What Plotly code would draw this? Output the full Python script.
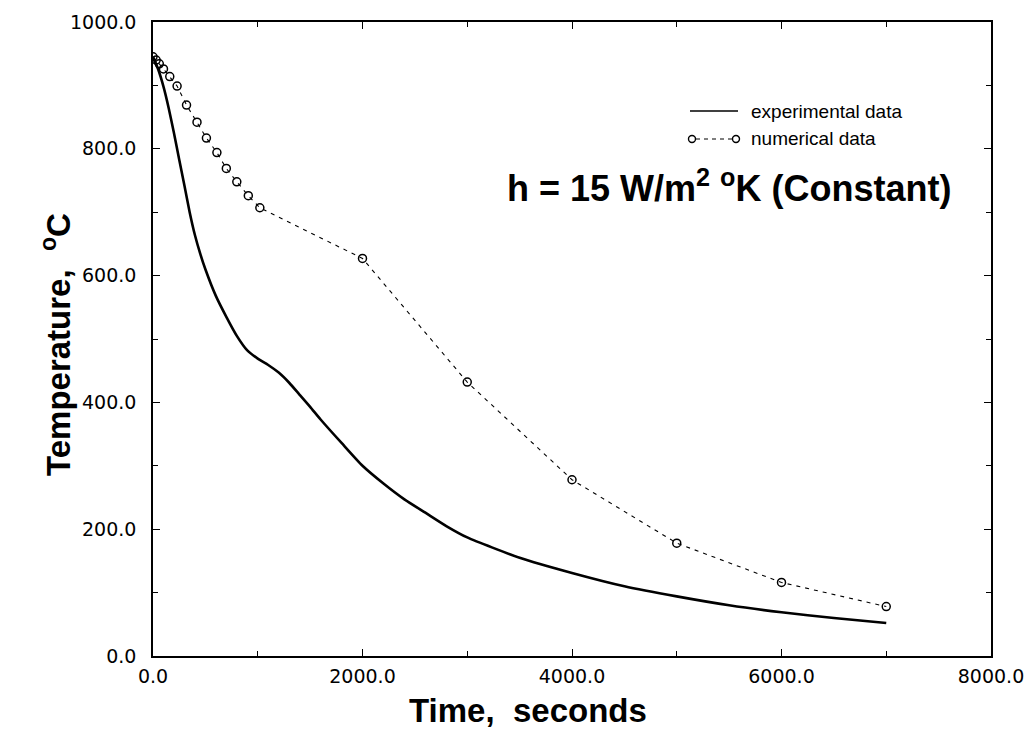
import plotly.graph_objects as go

# Experimental data (solid line)
exp_time = [0, 50, 100, 150, 200, 250, 300, 350, 400, 450, 500, 600, 700, 800, 900, 1000,
            1100, 1200, 1300, 1400, 1500, 1600, 1800, 2000, 2200, 2400, 2600, 2800, 3000,
            3500, 4000, 4500, 5000, 5500, 6000, 6500, 7000]
exp_temp = [945, 925, 898, 864, 825, 783, 742, 700, 664, 635, 610, 568, 535, 505, 482, 469,
            459, 447, 431, 412, 393, 373, 336, 300, 272, 247, 226, 205, 187,
            155, 131, 110, 94, 80, 69, 60, 52]

# Numerical data (dashed line with open circles)
num_time = [0, 30, 60, 100, 160, 230, 320, 420, 510, 610, 700, 800, 910, 1020,
            2000, 3000, 4000, 5000, 6000, 7000]
num_temp = [945, 940, 934, 926, 914, 899, 869, 842, 817, 794, 769, 748, 726, 707,
            627, 432, 278, 178, 116, 78]

x_ticks = [0, 2000, 4000, 6000, 8000]
x_tick_labels = ["0.0", "2000.0", "4000.0", "6000.0", "8000.0"]
y_ticks = [0, 200, 400, 600, 800, 1000]
y_tick_labels = ["0.0", "200.0", "400.0", "600.0", "800.0", "1000.0"]

FONT = "Arial, 'Liberation Sans', Helvetica, sans-serif"
TICKFONT = "'DejaVu Sans', Verdana, sans-serif"

OFF = 8  # page body margin
W, H = 1033 - 2 * OFF, 734 - OFF
# plot area edges in screen pixels
SL, SR, ST, SB = 153, 991, 22, 656
L, R, T, B = SL - OFF, SR - OFF, ST - OFF, SB - OFF


def px(xs):
    return (xs - SL) / (SR - SL)


def py(ys):
    return (SB - ys) / (SB - ST)


fig = go.Figure()
fig.add_trace(go.Scatter(
    x=exp_time, y=exp_temp, mode="lines", name="experimental data",
    line=dict(color="black", width=2.6, shape="spline", smoothing=0.6),
    showlegend=False))
fig.add_trace(go.Scatter(
    x=num_time, y=num_temp, mode="lines+markers", name="numerical data",
    line=dict(color="black", width=1.1, dash="4px,5px"),
    marker=dict(symbol="circle-open", size=8, color="black", line=dict(width=1.5)),
    showlegend=False))

shapes = []
# legend samples
shapes.append(dict(type="line", xref="paper", yref="paper", x0=px(690), x1=px(738),
                   y0=py(111), y1=py(111), line=dict(color="black", width=1.6)))
shapes.append(dict(type="line", xref="paper", yref="paper", x0=px(696), x1=px(732),
                   y0=py(139), y1=py(139), line=dict(color="black", width=1.1, dash="4px,4px")))
for cx in (692, 736):
    shapes.append(dict(type="circle", xref="paper", yref="paper",
                       x0=px(cx - 3.5), x1=px(cx + 3.5), y0=py(139 + 3.5), y1=py(139 - 3.5),
                       line=dict(color="black", width=1.4)))

annotations = [
    dict(x=px(749), y=py(111), xref="paper", yref="paper", text="experimental data",
         showarrow=False, xanchor="left", yanchor="middle",
         font=dict(family=FONT, size=19, color="black")),
    dict(x=px(749), y=py(139), xref="paper", yref="paper", text="numerical data",
         showarrow=False, xanchor="left", yanchor="middle",
         font=dict(family=FONT, size=19, color="black")),
    dict(x=px(729), y=py(186), xref="paper", yref="paper",
         text="<b>h = 15 W/m<sup>2</sup> <sup>o</sup>K (Constant)</b>",
         showarrow=False, xanchor="center", yanchor="middle",
         font=dict(family=FONT, size=36, color="black")),
    dict(x=px(56), y=py(345), xref="paper", yref="paper",
         text="<b>Temperature,  <sup>o</sup>C</b>", textangle=-90,
         showarrow=False, xanchor="center", yanchor="middle",
         font=dict(family=FONT, size=33, color="black")),
    dict(x=px(528), y=py(710), xref="paper", yref="paper",
         text="<b>Time,  seconds</b>",
         showarrow=False, xanchor="center", yanchor="middle",
         font=dict(family=FONT, size=33, color="black")),
]

fig.update_layout(
    width=W, height=H,
    margin=dict(l=L, r=W - R, t=T, b=H - B, autoexpand=False),
    paper_bgcolor="white", plot_bgcolor="white",
    shapes=shapes, annotations=annotations,
    font=dict(family=FONT, color="black"),
    xaxis=dict(range=[0, 8000], tickvals=x_ticks, ticktext=x_tick_labels,
               ticks="inside", ticklen=7, tickwidth=1.2, tickcolor="black",
               showline=True, linecolor="black", linewidth=1.5, mirror="ticks",
               showgrid=False, zeroline=False, ticklabelstandoff=2, automargin=False,
               minor=dict(dtick=1000, tick0=0, ticks="inside", ticklen=5, tickcolor="black",
                          showgrid=False),
               tickfont=dict(family=TICKFONT, size=19, color="black")),
    yaxis=dict(range=[0, 1000], tickvals=y_ticks, ticktext=y_tick_labels,
               ticks="inside", ticklen=7, tickwidth=1.2, tickcolor="black",
               showline=True, linecolor="black", linewidth=1.5, mirror="ticks",
               showgrid=False, zeroline=False, ticklabelstandoff=11, automargin=False,
               minor=dict(dtick=100, tick0=0, ticks="inside", ticklen=5, tickcolor="black",
                          showgrid=False),
               tickfont=dict(family=TICKFONT, size=19, color="black")),
)

fig.write_html("out.html")
